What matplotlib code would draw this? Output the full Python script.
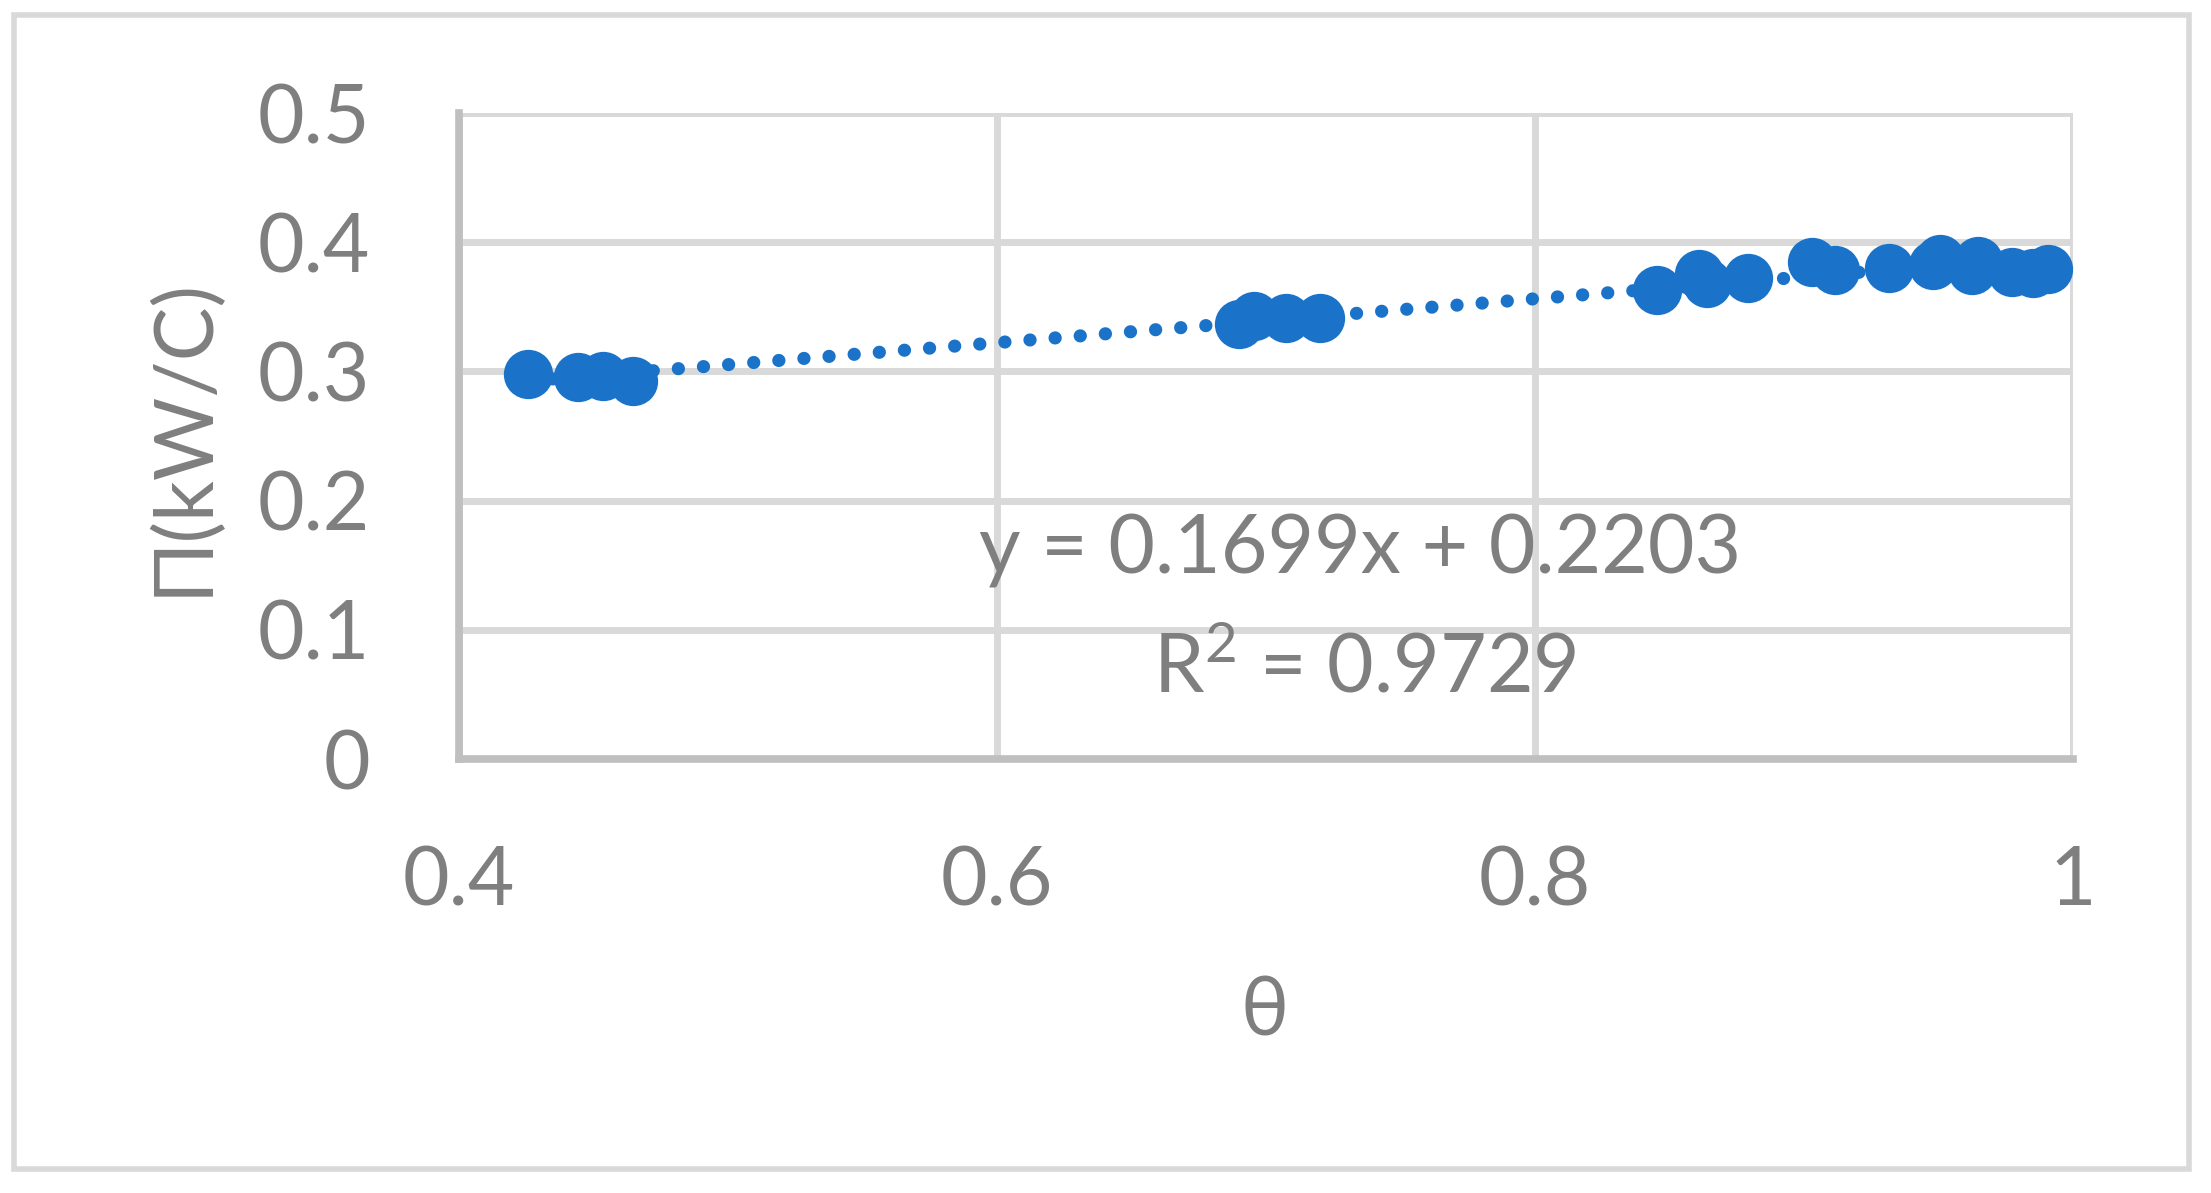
import numpy as np
import matplotlib
matplotlib.use("Agg")
import matplotlib.pyplot as plt
from matplotlib.patches import Rectangle

plt.rcParams['font.family'] = ['Lato', 'DejaVu Sans']
plt.rcParams['mathtext.fontset'] = 'custom'
plt.rcParams['mathtext.rm'] = 'Lato'

# data
theta = [0.4255, 0.4443, 0.4534, 0.4646,
         0.690, 0.6957, 0.7074, 0.720,
         0.8455, 0.8611, 0.8638, 0.8793,
         0.9031, 0.9115, 0.9316, 0.948, 0.9506, 0.9623, 0.9648, 0.9772, 0.9852, 0.9908]
power = [0.298, 0.2954, 0.2964, 0.2926,
         0.3369, 0.3426, 0.3413, 0.3411,
         0.3628, 0.3754, 0.3682, 0.3725,
         0.3847, 0.3785, 0.380, 0.3824, 0.387, 0.3785, 0.3857, 0.3767, 0.3762, 0.3793]

slope = 0.1699
intercept = 0.2203
r2 = 0.9729

xticks = [0.4, 0.6, 0.8, 1.0]
xticklabels = ['0.4', '0.6', '0.8', '1']
yticks = [0, 0.1, 0.2, 0.3, 0.4, 0.5]
yticklabels = ['0', '0.1', '0.2', '0.3', '0.4', '0.5']

blue = '#1A73C8'
grey_txt = '#7F7F7F'
fs = 58

fig = plt.figure(figsize=(22.11, 11.93), dpi=100)
ax = fig.add_axes([459/2211, 1-759/1193, (2073-459)/2211, (759-113)/1193])

# outer chart border
fig.patches.append(Rectangle((14/2211, 1-1169/1193), (2189-14)/2211, (1169-15)/1193,
                             transform=fig.transFigure, fill=False,
                             edgecolor='#D9D9D9', linewidth=4, zorder=0))

ax.set_xlim(0.4, 1.0)
ax.set_ylim(0, 0.5)
ax.set_xticks(xticks)
ax.set_xticklabels(xticklabels)
ax.set_yticks(yticks)
ax.set_yticklabels(yticklabels)
ax.tick_params(length=0, labelsize=fs, labelcolor=grey_txt)
ax.tick_params(axis='x', pad=62)
ax.tick_params(axis='y', pad=64)

ax.grid(True, color='#D9D9D9', linewidth=5)
ax.set_axisbelow(True)
for s in ['top', 'right']:
    ax.spines[s].set_visible(False)
for s in ['left', 'bottom']:
    ax.spines[s].set_color('#BFBFBF')
    ax.spines[s].set_linewidth(5.5)

# trendline
xt = np.array([min(theta), max(theta)])
ax.plot(xt, slope*xt + intercept, color=blue, linewidth=9.5,
        linestyle=(0, (0.01, 1.9)), dash_capstyle='round', zorder=2)

ax.plot(theta, power, 'o', color=blue, markersize=35.5, markeredgewidth=0,
        zorder=3, clip_on=False)

ax.text(0.558, 0.322, 'y = %.4fx + %.4f' % (slope, intercept), transform=ax.transAxes,
        ha='center', va='center', fontsize=fs, color=grey_txt)
ax.text(0.561, 0.140, 'R$^{\\mathrm{2}}$ = %.4f' % r2, transform=ax.transAxes,
        ha='center', va='center', fontsize=fs, color=grey_txt)

ax.set_xlabel('θ', fontsize=fs, color=grey_txt, va='center')
ax.xaxis.set_label_coords(0.499, -0.393)
ax.set_ylabel('Π(kW/C)', fontsize=fs, color=grey_txt, va='center')
ax.yaxis.set_label_coords(-0.171, 0.5)

fig.savefig('out.png', dpi=100)
